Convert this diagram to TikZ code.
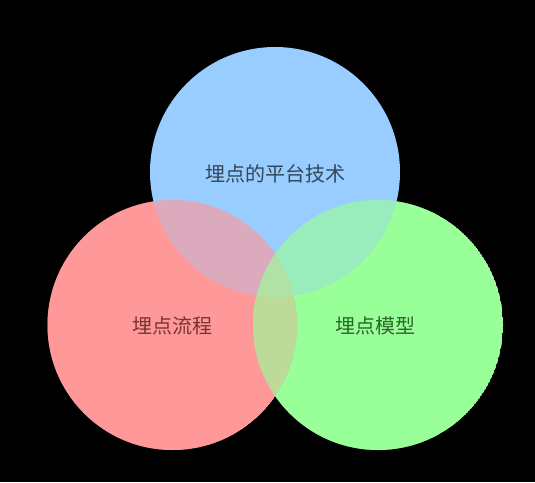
\documentclass[tikz,border=0pt]{standalone}
\usepackage{fontspec}
\newfontfamily\cjk{Noto Sans CJK SC}

\definecolor{setblue}{HTML}{99CCFF}
\definecolor{setred}{HTML}{FF9999}
\definecolor{setgreen}{HTML}{99FF99}
\definecolor{bluetext}{HTML}{34465A}
\definecolor{redtext}{HTML}{7A3232}
\definecolor{greentext}{HTML}{2C662C}

\tikzset{setlabel/.style={font=\cjk\fontsize{15}{18}\selectfont, inner sep=0pt}}

\begin{document}
\begin{tikzpicture}[x=0.75pt, y=-0.75pt]

 \fill[black] (0, 0) rectangle (535, 482);
 \def\rad{93.75pt}

 \coordinate (blue) at (275, 172);
 \coordinate (red) at (172.5, 325);
 \coordinate (green) at (378, 325);

 % blue at the bottom
 \fill[setblue] (blue) circle (\rad);

 % red over blue
 \begin{scope}
  \clip (red) circle (\rad);
  \fill[setred] (red) circle (\rad);
  \fill[setblue] (blue) circle (\rad);
  \fill[setred, fill opacity=0.65] (red) circle (\rad);
 \end{scope}

 % green over both
 \begin{scope}
  \clip (green) circle (\rad);
  \fill[setgreen] (green) circle (\rad);
  \fill[setblue] (blue) circle (\rad);
  \begin{scope}
   \clip (red) circle (\rad);
   \fill[setred] (red) circle (\rad);
   \fill[setblue] (blue) circle (\rad);
   \fill[setred, fill opacity=0.65] (red) circle (\rad);
  \end{scope}
  \fill[setgreen, fill opacity=0.65] (green) circle (\rad);
 \end{scope}

 \node[setlabel, text=bluetext] (platform) at (275, 174) {埋点的平台技术};
 \node[setlabel, text=redtext] (flow) at (172, 326) {埋点流程};
 \node[setlabel, text=greentext] (model) at (375, 326) {埋点模型};

\end{tikzpicture}
\end{document}
